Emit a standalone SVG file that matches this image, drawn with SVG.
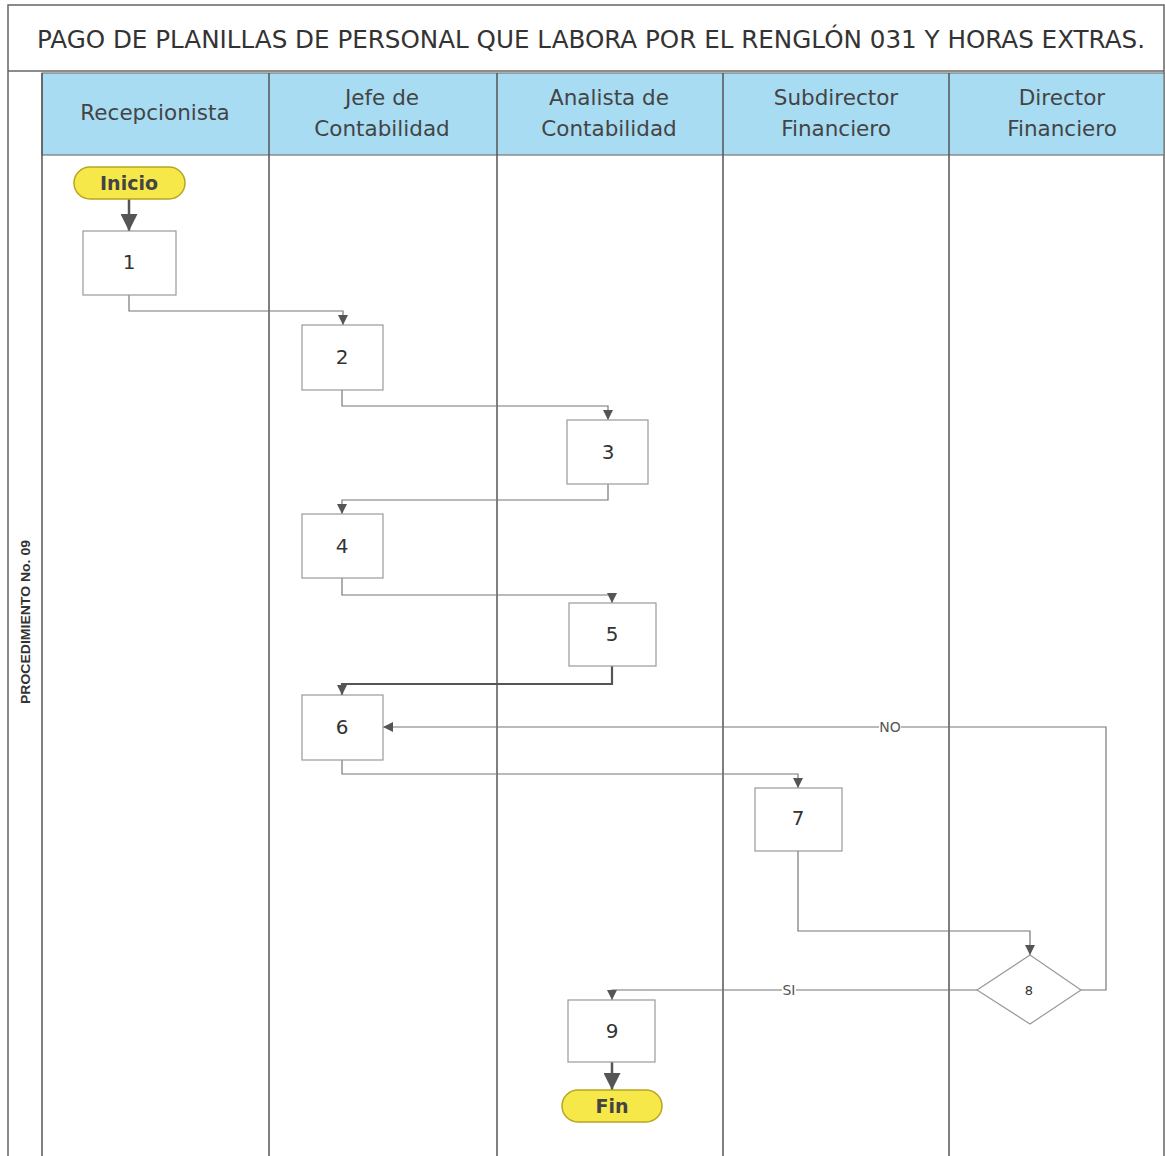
<svg xmlns="http://www.w3.org/2000/svg" width="1165" height="1156" viewBox="0 0 1165 1156">
<defs>
<marker id="ah" viewBox="0 0 10 10" refX="10" refY="5" markerWidth="10" markerHeight="10" markerUnits="userSpaceOnUse" orient="auto"><path d="M0,0 L10,5 L0,10 Z" fill="#555"/></marker>
<marker id="ahb" viewBox="0 0 10 10" refX="10" refY="5" markerWidth="17" markerHeight="17" markerUnits="userSpaceOnUse" orient="auto"><path d="M0,0 L10,5 L0,10 Z" fill="#555"/></marker>
<style>
.frame{fill:none;stroke:#666;stroke-width:1.5}
.lane{stroke:#555;stroke-width:1.5}
.hdr{fill:#a8dcf3;stroke:#777;stroke-width:1.2}
.ht{font-family:"DejaVu Sans","Liberation Sans",sans-serif;font-size:21.5px;fill:#444;text-anchor:middle}
.box{fill:#fff;stroke:#999;stroke-width:1.2}
.num{font-family:"DejaVu Sans","Liberation Sans",sans-serif;font-size:20px;fill:#333;text-anchor:middle;dominant-baseline:central}
.term{fill:#f7e84a;stroke:#b8a520;stroke-width:1.5}
.tt{font-family:"DejaVu Sans","Liberation Sans",sans-serif;font-size:19px;font-weight:bold;fill:#444;text-anchor:middle;dominant-baseline:central}
.c{fill:none;stroke:#777;stroke-width:1.2}
.cb{fill:none;stroke:#555;stroke-width:2.5}
.lbl{font-family:"DejaVu Sans","Liberation Sans",sans-serif;font-size:14px;fill:#555;text-anchor:middle;dominant-baseline:central}
</style>
</defs>
<rect x="0" y="0" width="1165" height="1156" fill="#fff"/>
<g id="frame">
<path class="frame" d="M8,1156 V5 H1164 V1156"/>
<line class="frame" x1="8" y1="71" x2="1164" y2="71"/>
<text x="591" y="48" font-family="DejaVu Sans, Liberation Sans, sans-serif" font-size="25" fill="#333" text-anchor="middle" textLength="1108" lengthAdjust="spacingAndGlyphs">PAGO DE PLANILLAS DE PERSONAL QUE LABORA POR EL RENGLÓN 031 Y HORAS EXTRAS.</text>
<rect class="hdr" x="42" y="73" width="1122" height="82"/>
<line class="lane" x1="42" y1="73" x2="42" y2="1156"/>
<line class="lane" x1="269" y1="73" x2="269" y2="1156"/>
<line class="lane" x1="497" y1="73" x2="497" y2="1156"/>
<line class="lane" x1="723" y1="73" x2="723" y2="1156"/>
<line class="lane" x1="949" y1="73" x2="949" y2="1156"/>
<text x="25" y="622" font-family="Liberation Sans, Arial, sans-serif" font-size="13" font-weight="bold" fill="#333" text-anchor="middle" dominant-baseline="central" textLength="164" lengthAdjust="spacingAndGlyphs" transform="rotate(-90 25 622)">PROCEDIMIENTO No. 09</text>
</g>
<g id="headers">
<text class="ht" x="155" y="120">Recepcionista</text>
<text class="ht" x="382" y="105">Jefe de</text>
<text class="ht" x="382" y="136">Contabilidad</text>
<text class="ht" x="609" y="105">Analista de</text>
<text class="ht" x="609" y="136">Contabilidad</text>
<text class="ht" x="836" y="105">Subdirector</text>
<text class="ht" x="836" y="136">Financiero</text>
<text class="ht" x="1062" y="105">Director</text>
<text class="ht" x="1062" y="136">Financiero</text>
</g>
<g id="connectors">
<line class="cb" x1="129" y1="199" x2="129" y2="231" marker-end="url(#ahb)"/>
<path class="c" d="M129,295 V311 H343 V325" marker-end="url(#ah)"/>
<path class="c" d="M342,390 V406 H608 V420" marker-end="url(#ah)"/>
<path class="c" d="M608,484 V500 H342 V514" marker-end="url(#ah)"/>
<path class="c" d="M342,578 V595 H612 V603" marker-end="url(#ah)"/>
<path class="c" d="M612,666 V684 H342 V695" marker-end="url(#ah)" style="stroke:#555;stroke-width:2.2"/>
<path class="c" d="M342,760 V774 H798 V788" marker-end="url(#ah)"/>
<path class="c" d="M798,851 V931 H1030 V955" marker-end="url(#ah)"/>
<path class="c" d="M1081,990 H1106 V727 H383" marker-end="url(#ah)"/>
<path class="c" d="M977,990 H612 V1000" marker-end="url(#ah)"/>
<line class="cb" x1="612" y1="1062" x2="612" y2="1090" marker-end="url(#ahb)"/>
<rect x="879" y="720" width="22" height="14" fill="#fff"/>
<text class="lbl" x="890" y="727">NO</text>
<rect x="782" y="983" width="14" height="14" fill="#fff"/>
<text class="lbl" x="789" y="990">SI</text>
</g>
<g id="inicio"><rect class="term" x="74" y="167" width="111" height="32" rx="16"/><text class="tt" x="129" y="183">Inicio</text></g>
<g id="n1"><rect class="box" x="83" y="231" width="93" height="64"/><text class="num" x="129" y="262">1</text></g>
<g id="n2"><rect class="box" x="302" y="325" width="81" height="65"/><text class="num" x="342" y="357">2</text></g>
<g id="n3"><rect class="box" x="567" y="420" width="81" height="64"/><text class="num" x="608" y="452">3</text></g>
<g id="n4"><rect class="box" x="302" y="514" width="81" height="64"/><text class="num" x="342" y="546">4</text></g>
<g id="n5"><rect class="box" x="569" y="603" width="87" height="63"/><text class="num" x="612" y="634">5</text></g>
<g id="n6"><rect class="box" x="302" y="695" width="81" height="65"/><text class="num" x="342" y="727">6</text></g>
<g id="n7"><rect class="box" x="755" y="788" width="87" height="63"/><text class="num" x="798" y="818">7</text></g>
<g id="n8"><polygon class="box" points="1030,955 1081,990 1030,1024 977,990"/><text class="num" x="1029" y="990" style="font-size:13px">8</text></g>
<g id="n9"><rect class="box" x="568" y="1000" width="87" height="62"/><text class="num" x="612" y="1031">9</text></g>
<g id="fin"><rect class="term" x="562" y="1090" width="100" height="32" rx="16"/><text class="tt" x="612" y="1106">Fin</text></g>
</svg>
